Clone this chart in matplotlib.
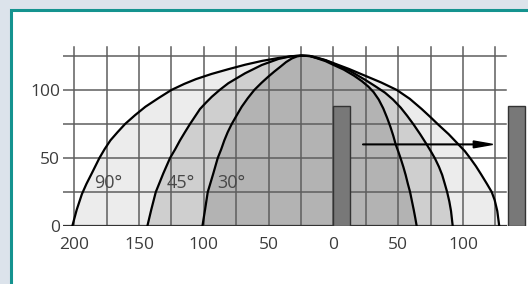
import matplotlib
matplotlib.use('Agg')
import matplotlib.pyplot as plt
from matplotlib.patches import Rectangle

# curve points (distance, height)
u_90 = [-201.4, -198, -194, -190.5, -186.4, -180.5, -176.5, -172, -166.5, -160.7, -153, -145, -135,
        -125, -115, -106, -94, -81, -68, -55, -42, -32, -25, -18, -12.8, -6,
        0, 12, 24.5, 37, 49, 59, 68.2, 75, 81, 89, 96.5, 101.5, 105.5, 110, 114,
        118.5, 122.2, 124.5, 126.5, 128]
h_90 = [0, 12, 23.5, 31, 38.7, 50, 56.5, 63, 69, 75, 81.5, 87.7, 94,
        100, 104.5, 108, 111.8, 115.3, 118.6, 121.4, 123.6, 124.8, 125.3, 125, 123.8, 122,
        119.8, 115.5, 110.5, 105.5, 100, 93.5, 86, 80, 74.5, 67.5, 60, 55, 50, 44, 38,
        31, 25, 19, 11, 0]

u_45 = [-143.5, -140.5, -137, -131.2, -126, -122, -118.3, -114.5, -110.6, -102.9, -98.5, -93.8,
        -87.5, -81, -68.1, -55.2, -42.4, -33, -25, -18, -12.8, -6,
        0, 12, 24.5, 32, 39.9, 46, 52, 57, 62, 67, 72, 75.5, 78.5, 81.5, 84,
        86, 87.8, 89.5, 90.8, 92.1]
h_45 = [0, 12, 25, 38.7, 50, 56.5, 63, 69, 75, 86, 90.5, 95,
        100.2, 105, 112.3, 118.4, 122.8, 124.8, 125.3, 125, 123.6, 121.8,
        119.4, 114.5, 107.5, 103, 98, 93, 87, 81, 74.5, 67.5, 60, 54.5, 49.5, 43.5, 37.5,
        31, 25, 18, 11, 0]

u_30 = [-101, -99, -96.9, -92.6, -89.2, -86.5, -84.1, -81.5, -78.4, -74.5, -70.7, -66, -61,
        -55.5, -50.2, -45.5, -41, -36.5, -32, -28, -24.4, -18, -12.8, -6,
        0, 8, 16, 22, 27, 31, 35, 38.5, 41.5, 44, 46.2, 48.1, 50.2, 52, 54, 55.8,
        57.5, 59.2, 60.7, 62, 63.2, 64.3]
h_30 = [0, 12, 25, 38.7, 50, 56.5, 63, 69, 75, 81.5, 87.7, 94, 100,
        105.2, 109.8, 113.6, 117, 120.5, 123.2, 124.7, 125.3, 124.9, 123.4, 121.2,
        118.5, 115, 110.5, 106.5, 102.5, 98.5, 93, 86.5, 79.5, 73, 66.5, 60, 54.5, 49.5, 43.5, 37.5,
        31, 25, 18, 12, 6, 0]

curve_labels = ['90°', '45°', '30°']
label_u = [-184.5, -129, -89.2]
label_h = [31.4, 31.4, 31.4]

bar_u = [0, 135]
bar_h = [88, 88]

arrow_u = [22.7, 123]
arrow_h = 60

xtick_pos = [-200, -150, -100, -50, 0, 50, 100]
xtick_labels = ['200', '150', '100', '50', '0', '50', '100']
ytick_pos = [0, 50, 100]

plt.rcParams['font.family'] = ['Open Sans', 'DejaVu Sans']

fig = plt.figure(figsize=(5.28, 2.84), dpi=100)
fig.patch.set_facecolor('#dce3eb')

# white panel with teal frame
panel = Rectangle((10.5 / 528, -0.1), 1.2, 273.5 / 284 + 0.1, transform=fig.transFigure,
                  facecolor='white', edgecolor='#14938f', linewidth=2.2, zorder=-1)
fig.add_artist(panel)

ax = fig.add_axes([63 / 528, 58 / 284, 1 - 63 / 528, 135 * 1.36 / 284])
ax.set_facecolor('none')
ax.set_xlim(-208.6, 150.2)
ax.set_ylim(0, 135)
for s in ax.spines.values():
    s.set_visible(False)

ax.fill(u_90, h_90, color='#ececec', zorder=1)
ax.fill(u_45, h_45, color='#cfcfcf', zorder=1.1)
ax.fill(u_30, h_30, color='#b3b3b3', zorder=1.2)

# grid
for x in range(-200, 126, 25):
    ax.plot([x, x], [0, 131.8], color='#5e5e5e', lw=1.1, zorder=2)
for y in range(25, 126, 25):
    ax.plot([-208.6, 133], [y, y], color='#5e5e5e', lw=1.1, zorder=2)
ax.plot([-208.6, 133], [0, 0], color='#333333', lw=1.6, zorder=2)

ax.bar(bar_u, bar_h, width=13, align='edge', color='#787878', edgecolor='#333333', lw=1, zorder=3)

for uu, hh in [(u_90, h_90), (u_45, h_45), (u_30, h_30)]:
    ax.plot(uu, hh, color='black', lw=1.6, zorder=4, solid_joinstyle='round')

for t, x, y in zip(curve_labels, label_u, label_h):
    ax.text(x, y, t, ha='left', va='center', fontsize=13, color='#484848', zorder=5)

ax.arrow(arrow_u[0], arrow_h, arrow_u[1] - arrow_u[0], 0, width=0.5, head_width=5,
         head_length=15, length_includes_head=True, color='black', zorder=5)

ax.set_xticks(xtick_pos, xtick_labels)
ax.set_yticks(ytick_pos)
ax.tick_params(axis='x', length=0, pad=8, labelsize=12.5, labelcolor='#3c3c3c')
ax.tick_params(axis='y', length=0, pad=2, labelsize=12.5, labelcolor='#3c3c3c')

fig.savefig('out.png', dpi=100, facecolor=fig.get_facecolor())
